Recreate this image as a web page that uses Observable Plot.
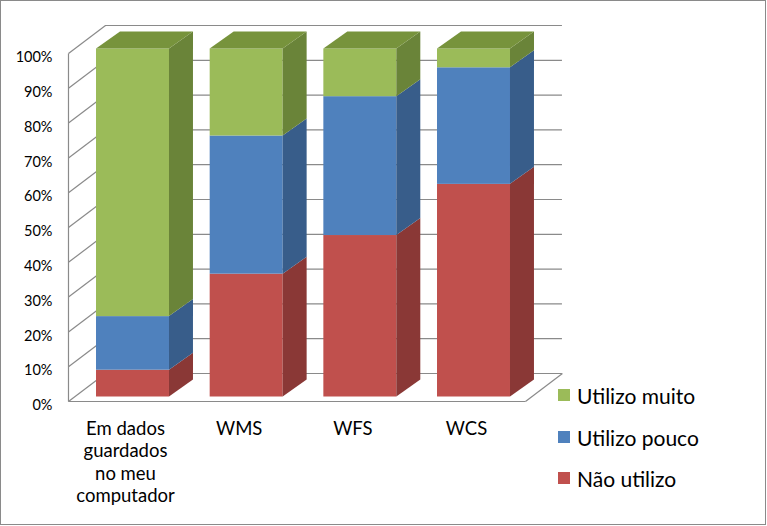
<!DOCTYPE html>
<html>
<head>
<meta charset="utf-8">
<script src="https://cdn.jsdelivr.net/npm/d3@7"></script>
<script src="https://cdn.jsdelivr.net/npm/@observablehq/plot@0.6"></script>
<style>
  html, body { margin: 0; padding: 0; background: #fff; }
  #wrap { position: relative; width: 767px; height: 526px; font-family: Lato, "Open Sans", sans-serif; overflow: hidden; }
  #border { position: absolute; left: 0; top: 0; width: 764px; height: 523px; border: 1.5px solid #8a8a8a; pointer-events: none; }
  .leg { position: absolute; left: 558px; display: flex; align-items: center; font-size: 21px; color: #000; height: 26px; }
  .leg span.sw { width: 12px; height: 12px; margin-right: 7px; display: inline-block; }
</style>
</head>
<body>
<div id="wrap"><div id="chart"></div><div id="legend"></div><div id="border"></div></div>
<script>
// ---- data ----
const categories = ["Em dados\nguardados\nno meu\ncomputador", "WMS", "WFS", "WCS"];
const seriesNames = ["Não utilizo", "Utilizo pouco", "Utilizo muito"];
const naoUtilizo   = [7.7, 35.3, 46.4, 61.1];
const utilizoPouco = [15.4, 39.7, 39.9, 33.5];
const utilizoMuito = [76.9, 25.0, 13.7, 5.4];
const yTicks = [0, 10, 20, 30, 40, 50, 60, 70, 80, 90, 100];
const yTickLabels = ["0%", "10%", "20%", "30%", "40%", "50%", "60%", "70%", "80%", "90%", "100%"];

// ---- styles ----
const frontColors = ["#C0504D", "#4F81BD", "#9BBB59"];
const sideColors  = ["#8A3836", "#385D8A", "#6A8439"];
const topColor = "#77933C";
const gridColor = "#8a8a8a";

const series = [naoUtilizo, utilizoPouco, utilizoMuito];
const half = 0.321, D = 0.211, DY = 4.885;      // bar half-width, depth (x units / y units)
const wallX0 = -0.5675, wallX1 = -0.242, wallDY = 8.046, backRight = 3.778, floorRight = 3.453;

const fronts = [], faces = [];
categories.forEach((c, i) => {
  let b = 0;
  series.forEach((s, k) => {
    const t = b + s[i];
    fronts.push({x1: i - half, x2: i + half, y1: b, y2: t, fill: frontColors[k]});
    const id = `s${i}-${k}`;
    faces.push({id, x: i + half, y1: b, y2: t, fill: sideColors[k]});
    faces.push({id, x: i + half + D, y1: b + DY, y2: t + DY, fill: sideColors[k]});
    if (k === series.length - 1) {
      const tid = `t${i}`;
      faces.push({id: tid, x: i - half, y1: t, y2: t, fill: topColor});
      faces.push({id: tid, x: i - half + D, y1: t, y2: t + DY, fill: topColor});
      faces.push({id: tid, x: i + half, y1: t, y2: t + DY, fill: topColor});
      faces.push({id: tid, x: i + half + D, y1: t + DY, y2: t + DY, fill: topColor});
    }
    b = t;
  });
});

const labels = categories.map((c, i) => ({x: i - 0.066, label: c}));

const chart = Plot.plot({
  width: 767,
  height: 526,
  marginLeft: 18.83,
  marginRight: 9.33,
  marginTop: 53,
  marginBottom: 125,
  x: {domain: [-1, 5.5], axis: null},
  y: {domain: [0, 100], axis: null},
  color: {type: "identity"},
  style: {fontFamily: "Lato, 'Open Sans', sans-serif", background: "#fff", overflow: "visible"},
  marks: [
    // back wall gridlines
    Plot.ruleY(yTicks, {y: d => d + wallDY, x1: wallX1, x2: backRight, stroke: gridColor, strokeWidth: 1.2}),
    // left wall diagonals
    Plot.link(yTicks, {x1: wallX0, y1: d => d, x2: wallX1, y2: d => d + wallDY, stroke: gridColor, strokeWidth: 1.2}),
    // left wall front edge
    Plot.link([0], {x1: wallX0, y1: 0, x2: wallX0, y2: 100, stroke: gridColor, strokeWidth: 1.2}),
    // floor front edges
    Plot.link([0], {x1: wallX0, y1: 0, x2: floorRight, y2: 0, stroke: gridColor, strokeWidth: 1.2}),
    Plot.link([0], {x1: floorRight, y1: 0, x2: backRight, y2: wallDY, stroke: gridColor, strokeWidth: 1.2}),
    // bars
    Plot.rect(fronts, {x1: "x1", x2: "x2", y1: "y1", y2: "y2", fill: "fill", dy: -4.5}),
    Plot.areaY(faces, {x: "x", y1: "y1", y2: "y2", z: "id", fill: "fill", dy: -4.5}),
    // y tick labels
    Plot.text(yTicks, {x: wallX0, y: d => d, text: (d, i) => yTickLabels[i], textAnchor: "end", dx: -16, dy: 4, fontSize: 14.5, fill: "#000"}),
    // category labels
    Plot.text(labels, {x: "x", y: 0, text: "label", lineAnchor: "top", dy: 17, fontSize: 18.5, lineHeight: 1.22, fill: "#000"})
  ]
});
document.getElementById("chart").appendChild(chart);

// legend (top series first)
const legend = document.getElementById("legend");
const legendTops = [382, 424, 465];
[2, 1, 0].forEach((k, j) => {
  const div = document.createElement("div");
  div.className = "leg";
  div.style.top = legendTops[j] + "px";
  const sw = document.createElement("span");
  sw.className = "sw";
  sw.style.background = frontColors[k];
  div.appendChild(sw);
  div.appendChild(document.createTextNode(seriesNames[k]));
  legend.appendChild(div);
});
</script>
</body>
</html>
